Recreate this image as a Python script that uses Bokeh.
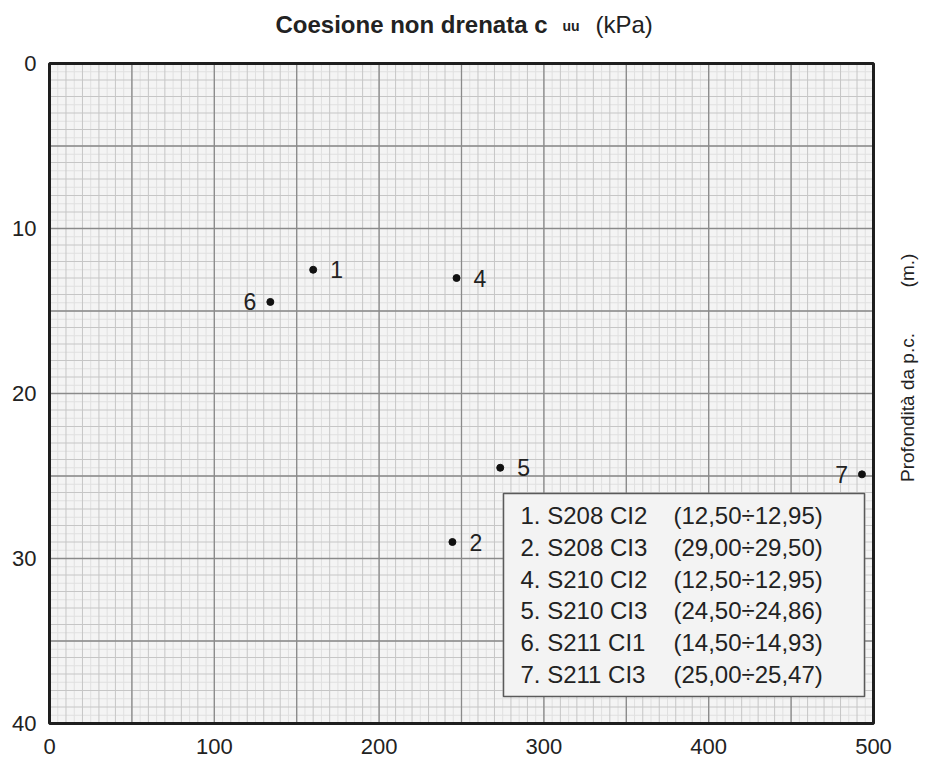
import math
from bokeh.plotting import figure
from bokeh.models import (Range1d, Label, BoxAnnotation, ColumnDataSource, CDSView, IndexFilter)
from bokeh.embed import file_html
from bokeh.resources import INLINE
from bokeh.core.properties import value

# ---------------- data ----------------
point_ids = ["1", "2", "4", "5", "6", "7"]
cuu_kpa = [160.0, 244.5, 247.0, 273.5, 134.0, 493.0]
depth_m = [12.5, 29.0, 13.0, 24.5, 14.45, 24.9]
boreholes = ["S208", "S208", "S210", "S210", "S211", "S211"]
samples = ["CI2", "CI3", "CI2", "CI3", "CI1", "CI3"]
depth_top = [12.50, 29.00, 12.50, 24.50, 14.50, 25.00]
depth_bottom = [12.95, 29.50, 12.95, 24.86, 14.93, 25.47]
labels_on_left = ["6", "7"]

x_ticks = [0, 100, 200, 300, 400, 500]
y_ticks = [0, 10, 20, 30, 40]
x_lim = [0, 500]
y_lim = [0, 40]

title_main = "Coesione non drenata c"
title_sub = "uu"
title_unit = "(kPa)"
y_title = "Profondità da p.c."
y_unit = "(m.)"

# ---------------- layout constants (pixels) ----------------
W, H = 928, 760
PX_L, PX_R, PX_T, PX_B = 49, 873, 63, 723
FONT = "Liberation Sans"
TXT = "#222222"

# the plotting frame covers the whole canvas; the data window sits at PX_*
kx = (x_lim[1] - x_lim[0]) / (PX_R - PX_L)
ky = (y_lim[1] - y_lim[0]) / (PX_B - PX_T)
x_range = Range1d(x_lim[0] - PX_L * kx, x_lim[1] + (W - PX_R) * kx)
y_range = Range1d(y_lim[1] + (H - PX_B) * ky, y_lim[0] - PX_T * ky)   # depth grows downward

p = figure(width=W, height=H, output_backend="svg", toolbar_location=None,
           x_range=x_range, y_range=y_range, min_border=0,
           x_axis_type=None, y_axis_type=None,
           outline_line_color=None, background_fill_color="white",
           border_fill_color="white")


def sx(xc):
    return xc


def sy(yc):
    return H - yc


# plot-area background
p.quad(left=[x_lim[0]], right=[x_lim[1]], top=[y_lim[0]], bottom=[y_lim[1]],
       fill_color="#f4f4f4", line_color=None)


# graph-paper grid: fine, minor, major
def vlines(xs, color, width):
    p.segment(x0=xs, x1=xs, y0=[y_lim[0]] * len(xs), y1=[y_lim[1]] * len(xs),
              line_color=color, line_width=width)


def hlines(ys, color, width):
    p.segment(x0=[x_lim[0]] * len(ys), x1=[x_lim[1]] * len(ys), y0=ys, y1=ys,
              line_color=color, line_width=width)


vlines([x_lim[0] + 5 + 10 * i for i in range(50)], "#e0e0e0", 1)
hlines([y_lim[0] + 0.5 + i for i in range(40)], "#e0e0e0", 1)
vlines(list(range(x_lim[0], x_lim[1] + 1, 10)), "#c6c6c6", 1)
hlines(list(range(y_lim[0], y_lim[1] + 1, 1)), "#c6c6c6", 1)
vlines(list(range(x_lim[0], x_lim[1] + 1, 50)), "#8a8a8a", 1.3)
hlines(list(range(y_lim[0], y_lim[1] + 1, 5)), "#8a8a8a", 1.3)

# frame border
p.quad(left=[x_lim[0]], right=[x_lim[1]], top=[y_lim[0]], bottom=[y_lim[1]],
       fill_color=None, line_color="#1e1e1e", line_width=3)

# tick labels
p.text(x=x_ticks, y=[y_lim[1]] * len(x_ticks), text=[str(t) for t in x_ticks],
       y_offset=15, text_align="center", text_baseline="top",
       text_font=value(FONT), text_font_size="22px", text_color=TXT)
p.text(x=[x_lim[0]] * len(y_ticks), y=y_ticks, text=[str(t) for t in y_ticks],
       x_offset=-13, text_align="right", text_baseline="middle",
       text_font=value(FONT), text_font_size="22px", text_color=TXT)

# points
src = ColumnDataSource(dict(x=cuu_kpa, y=depth_m, id=point_ids))
p.scatter(x="x", y="y", source=src, size=7, color="#111111")

right_idx = [i for i, t in enumerate(point_ids) if t not in labels_on_left]
left_idx = [i for i, t in enumerate(point_ids) if t in labels_on_left]
p.text(x="x", y="y", text="id", source=src, view=CDSView(filter=IndexFilter(right_idx)),
       x_offset=17, text_align="left", text_baseline="middle",
       text_font=value(FONT), text_font_size="23px", text_color=TXT)
p.text(x="x", y="y", text="id", source=src, view=CDSView(filter=IndexFilter(left_idx)),
       x_offset=-14, text_align="right", text_baseline="middle",
       text_font=value(FONT), text_font_size="23px", text_color=TXT)

# legend box
BOX_L, BOX_R, BOX_T, BOX_B = 503, 864, 493, 696
box = BoxAnnotation(left=sx(BOX_L), right=sx(BOX_R), top=sy(BOX_T), bottom=sy(BOX_B),
                    left_units="screen", right_units="screen",
                    top_units="screen", bottom_units="screen",
                    fill_color="#f3f3f3", fill_alpha=1.0,
                    line_color="#5a5a5a", line_width=1.5, line_alpha=1.0)
p.add_layout(box)


def fmt(v):
    return f"{v:.2f}".replace(".", ",")


ROW0, ROW_STEP = 515, 31.8
for i, pid in enumerate(point_ids):
    yc = ROW0 + i * ROW_STEP
    p.add_layout(Label(x=sx(520), y=sy(yc), x_units="screen", y_units="screen",
                       text=f"{pid}. {boreholes[i]} {samples[i]}",
                       text_font=FONT, text_font_size="24px", text_color=TXT,
                       text_align="left", text_baseline="middle"))
    p.add_layout(Label(x=sx(673), y=sy(yc), x_units="screen", y_units="screen",
                       text=f"({fmt(depth_top[i])}÷{fmt(depth_bottom[i])})",
                       text_font=FONT, text_font_size="24px", text_color=TXT,
                       text_align="left", text_baseline="middle"))

# title (mixed styles)
p.add_layout(Label(x=sx(275), y=sy(24), x_units="screen", y_units="screen",
                   text=title_main, text_font=FONT, text_font_size="24px",
                   text_font_style="bold", text_color=TXT,
                   text_align="left", text_baseline="alphabetic"))
p.add_layout(Label(x=sx(562), y=sy(25), x_units="screen", y_units="screen",
                   text=title_sub, text_font=FONT, text_font_size="14px",
                   text_font_style="bold", text_color=TXT,
                   text_align="left", text_baseline="alphabetic"))
p.add_layout(Label(x=sx(595), y=sy(24), x_units="screen", y_units="screen",
                   text=title_unit, text_font=FONT, text_font_size="24px",
                   text_color=TXT, text_align="left", text_baseline="alphabetic"))

# right-hand depth label (reads bottom to top)
p.add_layout(Label(x=sx(907), y=sy(407), x_units="screen", y_units="screen",
                   text=y_title, angle=math.pi / 2, text_font=FONT, text_font_size="19px",
                   text_color=TXT, text_align="center", text_baseline="middle"))
p.add_layout(Label(x=sx(907), y=sy(270), x_units="screen", y_units="screen",
                   text=y_unit, angle=math.pi / 2, text_font=FONT, text_font_size="19px",
                   text_color=TXT, text_align="center", text_baseline="middle"))

open("out.html", "w").write(file_html(p, INLINE))
